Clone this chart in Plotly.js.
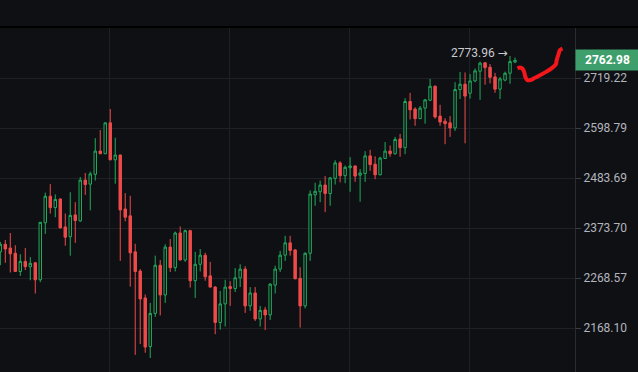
<!DOCTYPE html>
<html><head><meta charset="utf-8">
<script src="https://cdn.plot.ly/plotly-3.0.1.min.js"></script>
<style>html,body{margin:0;padding:0;background:#0f1013;overflow:hidden}#chart{width:638px;height:372px}</style>
</head><body><div id="chart"></div>
<script>
const openP = [2323,2339,2331,2320,2282,2303,2292,2300,2265,2385,
2443,2418,2437,2376,2355,2402,2389,2479,2470,2492,
2545,2539,2611,2525,2536,2415,2400,2323,2283,2228,
2132,2197,2295,2234,2333,2290,2363,2306,2368,2263,
2297,2316,2273,2250,2179,2216,2251,2247,2269,2287,
2212,2238,2186,2204,2194,2254,2287,2316,2342,2327,
2268,2212,2320,2446,2453,2468,2449,2483,2518,2489,
2507,2511,2490,2494,2534,2515,2491,2528,2545,2539,
2573,2553,2662,2644,2621,2646,2665,2699,2627,2615,
2611,2599,2691,2704,2682,2712,2736,2757,2746,2722,
2692,2714,2731,2759];
const highP = [2344,2348,2363,2337,2318,2331,2312,2302,2386,2451,
2470,2447,2438,2405,2452,2430,2486,2495,2498,2575,
2594,2612,2644,2576,2537,2450,2444,2340,2287,2235,
2218,2315,2306,2339,2350,2366,2377,2370,2370,2323,
2329,2321,2302,2252,2242,2265,2262,2289,2297,2293,
2250,2250,2212,2210,2258,2294,2325,2357,2357,2329,
2291,2322,2456,2473,2478,2488,2486,2524,2522,2512,
2531,2512,2504,2545,2548,2533,2532,2566,2558,2578,
2585,2670,2683,2648,2651,2668,2717,2701,2654,2622,
2627,2709,2734,2733,2729,2743,2760,2759,2754,2732,
2722,2735,2773.96,2770];
const lowP = [2295,2300,2280,2281,2273,2285,2264,2237,2260,2361,
2405,2397,2373,2336,2315,2342,2387,2446,2412,2478,
2538,2538,2524,2471,2304,2388,2251,2116,2137,2120,
2110,2190,2193,2218,2281,2282,2305,2302,2249,2228,
2282,2263,2249,2156,2165,2171,2212,2240,2250,2198,
2202,2182,2171,2164,2184,2237,2281,2304,2315,2266,
2169,2207,2304,2422,2430,2408,2422,2469,2474,2472,
2453,2475,2431,2475,2500,2481,2490,2527,2532,2537,
2532,2538,2619,2604,2620,2609,2663,2621,2604,2561,
2578,2592,2668,2563,2669,2709,2666,2703,2706,2683,
2668,2711,2705,2756];
const closeP = [2339,2329,2319,2282,2303,2292,2299,2265,2386,2443,
2418,2436,2374,2354,2401,2390,2479,2469,2493,2545,
2539,2611,2525,2536,2413,2397,2321,2282,2226,2131,
2197,2295,2234,2333,2290,2363,2306,2368,2263,2297,
2316,2271,2250,2179,2216,2250,2247,2269,2287,2212,
2238,2186,2203,2194,2256,2287,2316,2342,2326,2267,
2212,2320,2448,2454,2468,2449,2484,2518,2489,2508,
2511,2488,2495,2534,2514,2491,2529,2545,2539,2572,
2553,2662,2642,2621,2646,2666,2699,2625,2613,2609,
2599,2691,2704,2675,2712,2737,2756,2745,2721,2692,
2717,2731,2760,2762.98];
const priceTicks = [2168.10, 2268.57, 2373.70, 2483.69, 2598.79, 2719.22];
const priceTickText = ["2168.10","2268.57","2373.70","2483.69","2598.79","2719.22"];
const lastPrice = 2762.98;
const maxHigh = 2773.96;
const drawX = [103.5,104,104.5,104.8,105.1,105.5,106,107,108,109.3,110.3,111.2,111.3,111.7,112,112.5];
const drawY = [2743,2745,2742,2735,2721,2714,2714,2720,2726,2735,2743,2754,2762,2779,2789,2793];

const idx = openP.map((_, i) => i);
const green = '#22ab5e', red = '#ef4b4b', bg = '#0f1013';
const traces = [{
  type: 'candlestick', x: idx, open: openP, high: highP, low: lowP, close: closeP,
  increasing: {line: {color: green, width: 1}, fillcolor: bg},
  decreasing: {line: {color: red, width: 1}, fillcolor: red},
  whiskerwidth: 0, hoverinfo: 'skip', showlegend: false
}, {
  type: 'scatter', mode: 'lines', x: drawX, y: drawY,
  line: {color: '#f4161a', width: 4, shape: 'spline'},
  hoverinfo: 'skip', showlegend: false
}];
const lo = Math.log10(2083.4), hi = Math.log10(2845.3);
const layout = {
  width: 638, height: 372,
  margin: {l: 0, r: 63, t: 28, b: 0, pad: 0},
  paper_bgcolor: bg, plot_bgcolor: bg,
  font: {family: 'Roboto, sans-serif', size: 12, color: '#b2b5be'},
  boxgap: 0.3,
  xaxis: {range: [-0.06, 115], showticklabels: false, ticks: '', rangeslider: {visible: false},
    tickmode: 'array', tickvals: [21.8, 45.8, 69.8, 93.8], showgrid: true, gridcolor: '#1f2125',
    gridwidth: 1, zeroline: false, showline: false, fixedrange: true},
  yaxis: {type: 'log', side: 'right', range: [lo, hi], tickmode: 'array', tickvals: priceTicks,
    ticktext: priceTickText, showgrid: true, gridcolor: '#1f2125', gridwidth: 1,
    ticks: 'outside', ticklen: 5, tickcolor: '#3a3d44', showline: true, linecolor: '#2a2c31',
    linewidth: 1, zeroline: false, tickfont: {size: 12, color: '#b2b5be'}, fixedrange: true},
  shapes: [
    {type: 'line', xref: 'paper', yref: 'paper', x0: 0, x1: 1.11, y0: 1.003, y1: 1.003,
     line: {color: '#000000', width: 2}}
  ],
  annotations: [
    {xref: 'paper', yref: 'y', x: 1, y: Math.log10(lastPrice), xanchor: 'left', yanchor: 'middle',
     text: '<b>' + lastPrice.toFixed(2) + '</b>', showarrow: false, bgcolor: '#3f9f6c', width: 59, height: 16,
     borderpad: 2, font: {color: '#ffffff', size: 12, family: 'Roboto, sans-serif'}},
    {xref: 'x', yref: 'y', x: 101.9, y: Math.log10(maxHigh) + 0.0012, xanchor: 'right', yanchor: 'middle',
     text: maxHigh.toFixed(2) + ' <span style="font-family:DejaVu Sans">→</span>', showarrow: false,
     font: {color: '#c9cbd1', size: 12, family: 'Roboto, sans-serif'}}
  ]
};
Plotly.newPlot('chart', traces, layout, {displayModeBar: false, staticPlot: true});
</script></body></html>
